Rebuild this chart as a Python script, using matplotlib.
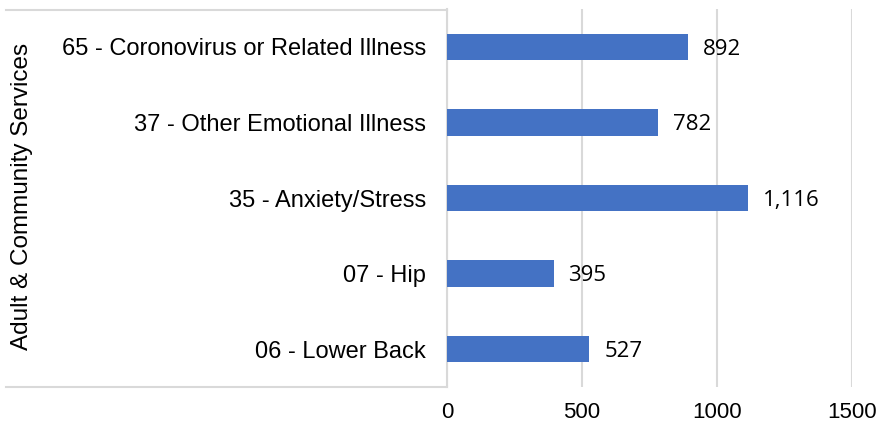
import matplotlib.pyplot as plt
from matplotlib.lines import Line2D

categories = ['65 - Coronovirus or Related Illness', '37 - Other Emotional Illness',
              '35 - Anxiety/Stress', '07 - Hip', '06 - Lower Back']
values = [892, 782, 1116, 395, 527]
group = 'Adult & Community Services'
xticks = [0, 500, 1000, 1500]

W, H = 880, 430
grid_c = '#d9d9d9'

fig = plt.figure(figsize=(8.8, 4.3), dpi=100)
ax = fig.add_axes([447 / W, 1 - 387 / H, (852 - 447) / W, (387 - 9) / H])

ypos = range(len(categories))
ax.barh(ypos, values, height=0.35, color='#4472c4', zorder=3)
ax.set_ylim(len(categories) - 0.5, -0.5)
ax.set_xlim(0, 1500)
ax.set_xticks(xticks)
ax.set_xticklabels([str(t) for t in xticks], fontsize=16, family='Liberation Sans')
ax.set_yticks(list(ypos))
ax.set_yticklabels(categories, fontsize=17, family='Liberation Sans')
ax.tick_params(axis='x', length=0, pad=11)
ax.tick_params(axis='y', length=0, pad=15)
ax.grid(axis='x', color=grid_c, linewidth=1.5, zorder=0)
for s in ['top', 'right', 'bottom']:
    ax.spines[s].set_visible(False)
ax.spines['left'].set_color(grid_c)
ax.spines['left'].set_linewidth(1.5)

for y, v in zip(ypos, values):
    ax.text(v + 55, y + 0.03, f'{v:,}', va='center', ha='left', fontsize=16, family='Open Sans')

# group box lines
fig.add_artist(Line2D([6 / W, 447 / W], [1 - 10 / H, 1 - 10 / H], color=grid_c, lw=1.5))
fig.add_artist(Line2D([6 / W, 447 / W], [1 - 387 / H, 1 - 387 / H], color=grid_c, lw=1.5))
fig.text(22 / W, 1 - 196 / H, group, rotation=90, va='center', ha='center',
         fontsize=17.5, family='Liberation Sans')

fig.savefig('out.png', dpi=100)
